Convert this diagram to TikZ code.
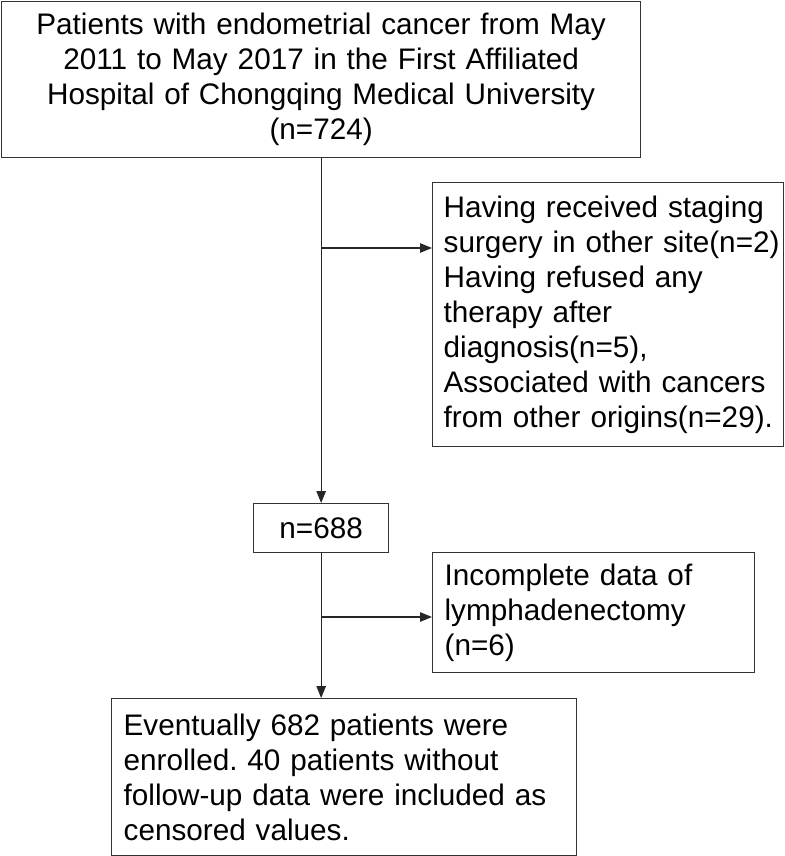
\documentclass[tikz,border=0pt]{standalone}
\usepackage{fontspec}
\setmainfont{Liberation Sans}
\usetikzlibrary{arrows.meta}
\begin{document}
\frenchspacing
\begin{tikzpicture}[x=1pt,y=-1pt,
  box/.style={draw=black!80,line width=1.3pt,anchor=north west,inner xsep=11pt,inner ysep=0pt,
    font=\fontsize{29.7}{35}\selectfont,text=black},
  lbox/.style={box,inner xsep=0pt,align=left},
  conn/.style={draw=black!85,line width=1.1pt,-{Triangle[length=12pt,width=9.5pt]}}]
\useasboundingbox (0,0) rectangle (784,856);
\node[box,text width=617pt,minimum height=156pt,align=center] (top) at (1,1)
  {Patients with endometrial cancer from May\\2011 to May 2017 in the First Affiliated\\Hospital of Chongqing Medical University\\(n=724)};
\node[lbox,text width=351pt,minimum height=264pt] (ex1) at (432,182)
  {\leftskip=11pt\hyphenpenalty=10000 Having received staging\\surgery in other site(n=2)\\Having refused any\\therapy after\\diagnosis(n=5),\\Associated with cancers\\from other origins(n=29).\par};
\node[box,text width=113pt,minimum height=49pt,align=center] (mid) at (253,503) {n=688};
\node[lbox,text width=322pt,minimum height=120pt] (ex2) at (432,552)
  {\leftskip=12pt\hyphenpenalty=10000 Incomplete data of\\lymphadenectomy\\(n=6)\par};
\node[lbox,text width=465pt,minimum height=157pt] (fin) at (111,698)
  {\leftskip=12pt\hyphenpenalty=10000 Eventually 682 patients were\\enrolled. 40 patients without\\follow-up data were included as\\censored values.\par};
\coordinate (b1) at (top.south |- 0,248);
\coordinate (b2) at (mid.south |- 0,617);
\draw[conn] (top.south) -- (mid.north);
\draw[conn] (b1) -- (b1 -| ex1.west);
\draw[conn] (mid.south) -- (mid.south |- fin.north);
\draw[conn] (b2) -- (b2 -| ex2.west);
\end{tikzpicture}
\end{document}
